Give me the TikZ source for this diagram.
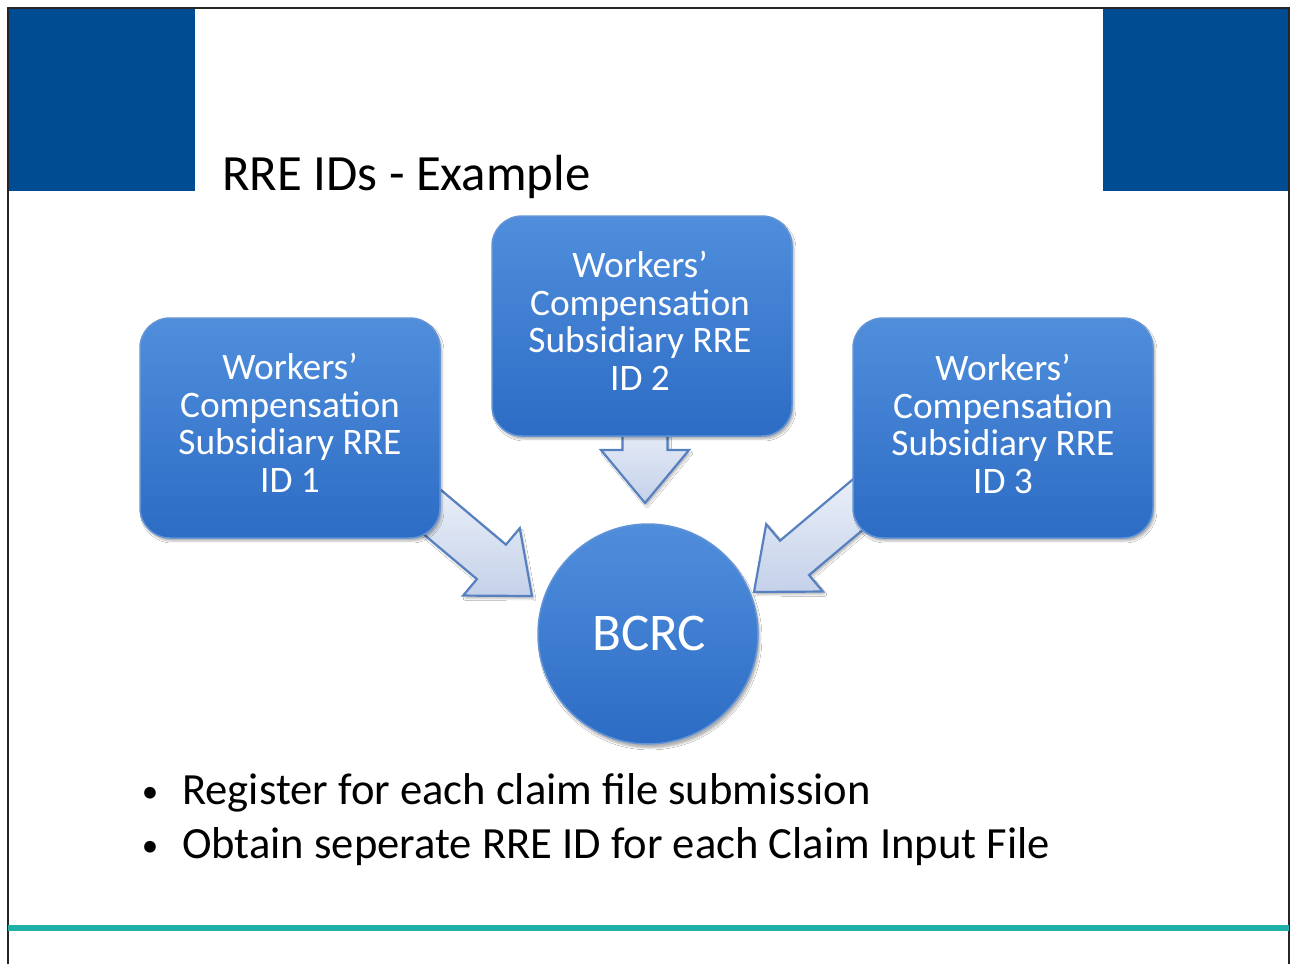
\documentclass[tikz,border=0pt]{standalone}
\usepackage{fontspec}
\setmainfont{Carlito}
\usetikzlibrary{calc,shadows,shadows.blur}

\definecolor{hdrblue}{RGB}{0,76,147}
\definecolor{rulecol}{RGB}{32,176,168}
\definecolor{boxtop}{RGB}{80,142,220}
\definecolor{boxbot}{RGB}{44,108,196}
\definecolor{boxedge}{RGB}{98,148,214}
\definecolor{arrtop}{RGB}{234,239,248}
\definecolor{arrbot}{RGB}{196,209,233}
\definecolor{arredge}{RGB}{86,128,192}

\tikzset{
  wbox/.style={rectangle, rounded corners=30pt, minimum width=300pt,
    minimum height=220pt, inner sep=0pt, draw=boxedge, line width=1.5pt,
    top color=boxtop, bottom color=boxbot,
    blur shadow={shadow xshift=2pt, shadow yshift=-3pt, shadow opacity=30}},
  hub/.style={circle, minimum size=220pt, inner sep=0pt, draw=boxedge,
    line width=1.5pt, top color=boxtop, bottom color=boxbot,
    blur shadow={shadow xshift=2pt, shadow yshift=-4pt, shadow opacity=30}},
  boxtext/.style={text=white, align=center, inner sep=0pt,
    font=\fontsize{37.4}{37.5}\selectfont},
  arrowbody/.style={draw=arredge, line width=2.2pt, line join=miter,
    top color=arrtop, bottom color=arrbot,
    blur shadow={shadow xshift=2pt, shadow yshift=-3pt, shadow opacity=25}},
  bullettext/.style={anchor=base west, inner sep=0pt,
    font=\fontsize{44.6}{54}\selectfont},
  bulletdot/.style={anchor=base, inner sep=0pt,
    font=\fontsize{33}{40}\selectfont},
}

% block arrow from #1 (tail) to #2 (tip)
\newcommand{\blockarrow}[2]{%
  \path ($(#2)!53pt!(#1)$) coordinate (hb);
  \path[arrowbody] ($(#1)!22.5pt!90:(#2)$) -- ($(hb)!22.5pt!90:(#2)$)
    -- ($(hb)!44pt!90:(#2)$) -- (#2) -- ($(hb)!44pt!-90:(#2)$)
    -- ($(hb)!22.5pt!-90:(#2)$) -- ($(#1)!22.5pt!-90:(#2)$) -- cycle;}

\begin{document}
\begin{tikzpicture}[x=1pt,y=-1pt]
  \useasboundingbox (0,0) rectangle (1290,964);
  \fill[white] (0,0) rectangle (1290,964);

  % header blocks
  \fill[hdrblue] (8,8) rectangle (195,191);
  \fill[hdrblue] (1103,8) rectangle (1289,191);

  % slide frame
  \draw[line width=1.5pt, black!85] (8,964) -- (8,8) -- (1289,8) -- (1289,964);

  % footer rule
  \draw[rulecol, line width=6pt] (8,928) -- (1289,928);

  % title
  \node[anchor=base west, inner sep=0pt, font=\fontsize{50.8}{60}\selectfont]
    (title) at (222,190) {RRE IDs - Example};

  % arrow tails and tips
  \coordinate (a1s) at (425,506);
  \coordinate (a1t) at (532,596);
  \coordinate (a2s) at (645,420);
  \coordinate (a2t) at (645,503);
  \coordinate (a3s) at (868,496);
  \coordinate (a3t) at (754,592);
  \blockarrow{a1s}{a1t}
  \blockarrow{a2s}{a2t}
  \blockarrow{a3s}{a3t}

  % subsidiary RRE boxes
  \node[wbox] (id1) at (290,428) {};
  \node[wbox] (id2) at (642,326) {};
  \node[wbox] (id3) at (1003,428) {};
  \node[boxtext] (t1) at (290,423) {Workers’\\Compensation\\Subsidiary RRE\\ID 1};
  \node[boxtext] (t2) at (640,321) {Workers’\\Compensation\\Subsidiary RRE\\ID 2};
  \node[boxtext] (t3) at (1003,424) {Workers’\\Compensation\\Subsidiary RRE\\ID 3};

  % BCRC hub
  \node[hub] (bcrc) at (648,634) {};
  \node[text=white, inner sep=0pt, font=\fontsize{53}{60}\selectfont]
    (bcrctext) at (649,633) {BCRC};

  % bullets
  \node[bulletdot] (d1) at (150,802) {•};
  \node[bullettext] (b1) at (182,804) {Register for each claim file submission};
  \node[bulletdot] (d2) at (150,856) {•};
  \node[bullettext] (b2) at (182,858) {Obtain seperate RRE ID for each Claim Input File};
\end{tikzpicture}
\end{document}
